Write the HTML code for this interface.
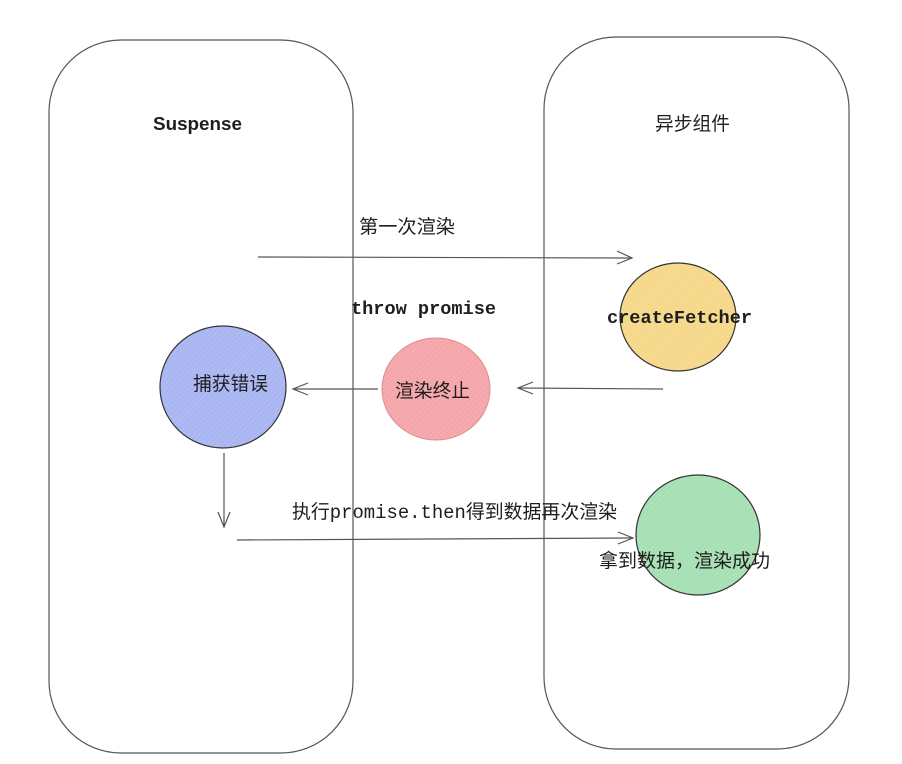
<!DOCTYPE html>
<html>
<head>
<meta charset="utf-8">
<style>
html,body{margin:0;padding:0;background:#fff;}
svg{display:block;}
.cjk{font-family:"Liberation Sans","Noto Sans CJK SC",sans-serif;font-size:19px;fill:#1e1e1e;}
.mono{font-family:"Liberation Mono","Noto Sans CJK SC",monospace;font-size:18.5px;font-weight:bold;fill:#1e1e1e;}
.mix{font-family:"Liberation Mono","Noto Sans CJK SC",monospace;font-size:19px;fill:#1e1e1e;}
</style>
</head>
<body>
<svg width="902" height="764" viewBox="0 0 902 764" xmlns="http://www.w3.org/2000/svg">
  <defs>
    <pattern id="hatch" width="4" height="4" patternUnits="userSpaceOnUse" patternTransform="rotate(45)">
      <rect width="4" height="4" fill="none"/>
      <line x1="0" y1="0" x2="0" y2="4" stroke="#ffffff" stroke-width="0.6" opacity="0.35"/>
    </pattern>
  </defs>

  <!-- containers -->
  <rect x="49" y="40" width="304" height="713" rx="72" ry="72" fill="none" stroke="#555" stroke-width="1.2"/>
  <rect x="544" y="37" width="305" height="712" rx="72" ry="72" fill="none" stroke="#555" stroke-width="1.2"/>

  <!-- titles -->
  <text x="153" y="130" class="mono" textLength="89" lengthAdjust="spacingAndGlyphs" style="font-family:'Liberation Sans',sans-serif;font-weight:bold;font-size:18px;">Suspense</text>
  <text x="655" y="130" class="cjk" textLength="75" lengthAdjust="spacingAndGlyphs">异步组件</text>

  <!-- first render arrow -->
  <text x="359" y="233" class="cjk" textLength="96" lengthAdjust="spacingAndGlyphs">第一次渲染</text>
  <line x1="258" y1="257" x2="632" y2="258" stroke="#555" stroke-width="1.2"/>
  <polyline points="617,251 632,258 617,264" fill="none" stroke="#555" stroke-width="1.2"/>

  <text x="351" y="314" class="mono" textLength="145" lengthAdjust="spacingAndGlyphs">throw promise</text>

  <!-- yellow circle -->
  <ellipse cx="678" cy="317" rx="58" ry="54" fill="#f6d88a"/>
  <ellipse cx="678" cy="317" rx="58" ry="54" fill="url(#hatch)" stroke="#333" stroke-width="1.2"/>
  <text x="607" y="323" class="mono" textLength="145" lengthAdjust="spacingAndGlyphs">createFetcher</text>

  <!-- red circle -->
  <ellipse cx="436" cy="389" rx="54" ry="51" fill="#f4a6ab"/>
  <ellipse cx="436" cy="389" rx="54" ry="51" fill="url(#hatch)" stroke="#e08a90" stroke-width="1"/>
  <text x="395" y="397" class="cjk" textLength="75" lengthAdjust="spacingAndGlyphs">渲染终止</text>

  <!-- blue circle -->
  <ellipse cx="223" cy="387" rx="63" ry="61" fill="#a9b6f2"/>
  <ellipse cx="223" cy="387" rx="63" ry="61" fill="url(#hatch)" stroke="#333" stroke-width="1.2"/>
  <text x="193" y="390" class="cjk" textLength="75" lengthAdjust="spacingAndGlyphs">捕获错误</text>

  <!-- arrows between circles -->
  <line x1="663" y1="389" x2="518" y2="388" stroke="#555" stroke-width="1.2"/>
  <polyline points="533,382 518,388 533,394" fill="none" stroke="#555" stroke-width="1.2"/>

  <line x1="378" y1="389" x2="293" y2="389" stroke="#555" stroke-width="1.2"/>
  <polyline points="308,383 293,389 308,395" fill="none" stroke="#555" stroke-width="1.2"/>

  <!-- down arrow -->
  <line x1="224" y1="453" x2="224" y2="527" stroke="#555" stroke-width="1.2"/>
  <polyline points="218,512 224,527 230,512" fill="none" stroke="#555" stroke-width="1.2"/>

  <!-- second render -->
  <text x="292" y="518" class="mix" textLength="325" lengthAdjust="spacingAndGlyphs">执行promise.then得到数据再次渲染</text>
  <line x1="237" y1="540" x2="633" y2="538" stroke="#555" stroke-width="1.2"/>
  <polyline points="618,532 633,538 618,544" fill="none" stroke="#555" stroke-width="1.2"/>

  <!-- green circle -->
  <ellipse cx="698" cy="535" rx="62" ry="60" fill="#a6e0b4"/>
  <ellipse cx="698" cy="535" rx="62" ry="60" fill="url(#hatch)" stroke="#333" stroke-width="1.2"/>
  <text x="599" y="567" class="cjk" textLength="171" lengthAdjust="spacingAndGlyphs">拿到数据，渲染成功</text>
</svg>
</body>
</html>
